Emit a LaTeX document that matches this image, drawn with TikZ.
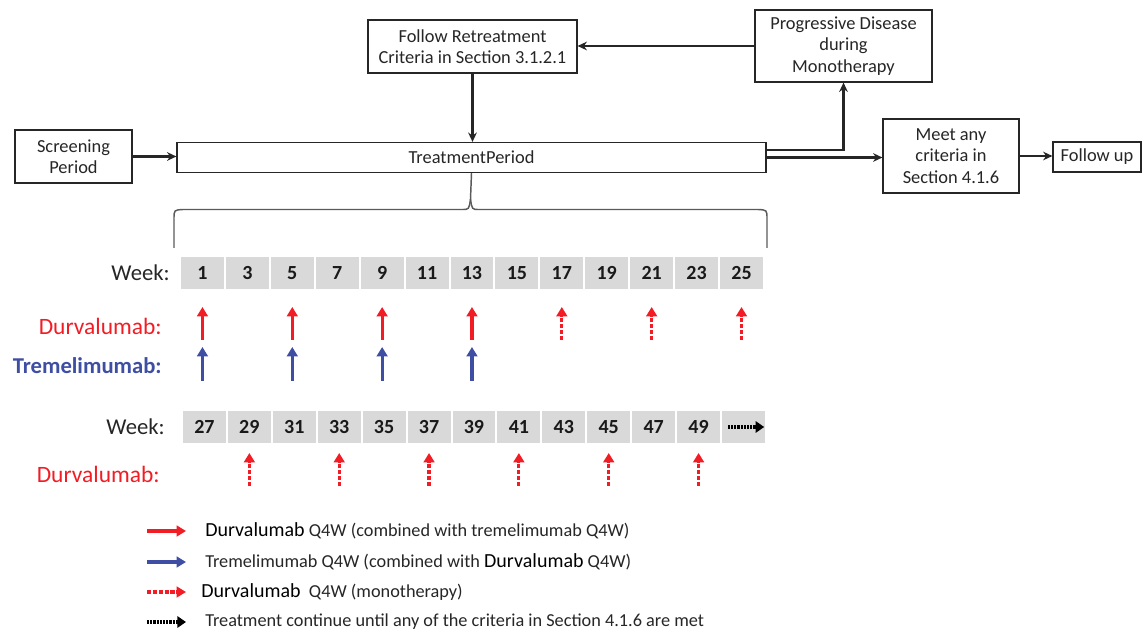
\documentclass[tikz,border=0pt]{standalone}
\usepackage{fontspec}
\setmainfont{Carlito}
\usetikzlibrary{arrows.meta,calc}
\definecolor{dred}{HTML}{F21C24}
\definecolor{dblue}{HTML}{3E4EA3}
\definecolor{cellgray}{HTML}{D9D9D9}
\definecolor{txt}{HTML}{262626}
\definecolor{bracegray}{HTML}{5A5A5A}
\newcommand\legdurvfont{\fontsize{15}{16}\selectfont\color{black}}
\begin{document}
\begin{tikzpicture}[x=0.75pt,y=-0.75pt,
  box/.style={draw=black!85, line width=0.9pt, fill=white, align=center,
    font=\fontsize{13.8}{16}\selectfont, text=txt, inner sep=0pt},
  flow/.style={-{Stealth[length=7pt,width=6.5pt]}, line width=1.6pt, black!85},
  cell/.style={fill=cellgray, minimum width=32.2pt, minimum height=24pt, inner sep=0pt,
    font=\fontsize{15}{16}\bfseries\selectfont, text=black!90},
  wlabel/.style={anchor=east, font=\fontsize{17}{18}\selectfont, text=txt, inner sep=0pt},
  dlabel/.style={anchor=east, font=\fontsize{17.6}{18}\selectfont, text=dred, inner sep=0pt},
  tlabel/.style={anchor=east, font=\fontsize{17}{18}\bfseries\selectfont, text=dblue, inner sep=0pt},
  dose/.style={-{Triangle[length=7pt,width=8pt]}, line width=2.3pt},
  mono/.style={dose, line width=2.4pt, dash pattern=on 3.2pt off 1.2pt},
  cont/.style={-{Triangle[length=6.5pt,width=8.5pt]}, line width=2.4pt, dash pattern=on 1.6pt off 0.8pt, black},
  legtext/.style={anchor=west, inner sep=0pt, font=\fontsize{13.7}{16}\selectfont, text=txt},
]
\useasboundingbox (0,0) rectangle (1145,634);

% ---- top flow boxes
\node[box, minimum width=156.75pt, minimum height=39.75pt] (follow) at (472.5,46.5)
  {Follow Retreatment\\Criteria in Section 3.1.2.1};
\node[box, minimum width=132.75pt, minimum height=54pt] (prog) at (843.5,46)
  {Progressive Disease\\during\\Monotherapy};
\node[box, minimum width=87.75pt, minimum height=39.75pt] (screen) at (73.5,156.5)
  {Screening\\Period};
\node[box, minimum width=441.75pt, minimum height=22.5pt] (treat) at (471.5,157.5)
  {TreatmentPeriod};
\node[box, minimum width=102pt, minimum height=55.5pt] (meet) at (951,156)
  {Meet any\\criteria in\\Section 4.1.6};
\node[box, minimum width=66pt, minimum height=22.5pt] (fup) at (1097,157)
  {Follow up};

\draw[flow] (prog.west) -- (prog.west -| follow.east);
\draw[flow] (follow.south) -- (follow.south |- treat.north);
\draw[flow] (screen.east) -- (screen.east -| treat.west);
\draw[flow] ([yshift=5.5pt]treat.east) -| (prog.south);
\draw[flow] (treat.east) -- (treat.east -| meet.west);
\draw[flow] (meet.east) -- (meet.east -| fup.west);

% ---- brace
\coordinate (bl) at (174,248);
\coordinate (br) at (767,248);
\draw[bracegray, line width=1.1pt]
  (bl) -- (174,219) .. controls (174,210) .. (183,209.5) -- (462,209.5)
  .. controls (469,209.5) .. (470.5,199) -- (treat.south);
\draw[bracegray, line width=1.1pt]
  (br) -- (767,219) .. controls (767,210) .. (758,209.5) -- (479,209.5)
  .. controls (472,209.5) .. (470.5,199);

% ---- week row 1
\node[wlabel] (wk1) at (170,273) {Week:};
\foreach \w [count=\i from 0] in {1,3,5,7,9,11,13,15,17,19,21,23,25}{
  \node[cell] (a\i) at ({202.45+44.92*\i},273) {\w};
}
\node[dlabel] (dl1) at (162,326) {Durvalumab:};
\node[tlabel] (tl1) at (162,366) {Tremelimumab:};
\foreach \i in {0,2,4,6}{
  \draw[dose, dred] ({202.45+44.92*\i},340) -- ({202.45+44.92*\i},307);
  \draw[dose, dblue] ({202.45+44.92*\i},381) -- ({202.45+44.92*\i},347);
}
\foreach \i in {8,10,12}{
  \draw[mono, dred] ({202.45+44.92*\i},340) -- ({202.45+44.92*\i},307);
}

% ---- week row 2
\node[wlabel] (wk2) at (165,427) {Week:};
\foreach \w [count=\i from 0] in {27,29,31,33,35,37,39,41,43,45,47,49}{
  \node[cell] (b\i) at ({204.45+44.92*\i},427) {\w};
}
\node[cell] (b12) at ({204.45+44.92*12},427) {};
\coordinate (contS) at ($(b12.west)+(6,0)$);
\coordinate (contE) at ($(b12.east)+(-1,0)$);
\draw[cont] (contS) -- (contE);
\node[dlabel] (dl2) at (160,474) {Durvalumab:};
\foreach \i in {1,3,5,7,9,11}{
  \draw[mono, dred] ({204.45+44.92*\i},486) -- ({204.45+44.92*\i},453);
}

% ---- legend
\coordinate (l1s) at (147,531); \coordinate (l1e) at (186,531);
\coordinate (l2s) at (147,562); \coordinate (l2e) at (186,562);
\coordinate (l3s) at (147,592); \coordinate (l3e) at (186,592);
\coordinate (l4s) at (147,622); \coordinate (l4e) at (186,622);
\draw[dose, dred] (l1s) -- (l1e);
\draw[dose, dblue] (l2s) -- (l2e);
\draw[mono, dred] (l3s) -- (l3e);
\draw[cont] (l4s) -- (l4e);
\node[legtext] (t1) at (205,531) {{\legdurvfont Durvalumab} Q4W (combined with tremelimumab Q4W)};
\node[legtext] (t2) at (205,562) {Tremelimumab Q4W (combined with {\legdurvfont Durvalumab} Q4W)};
\node[legtext] (t3) at (201,592) {{\legdurvfont Durvalumab}\ \ Q4W (monotherapy)};
\node[legtext] (t4) at (205,622) {Treatment continue until any of the criteria in Section 4.1.6 are met};
\end{tikzpicture}
\end{document}
